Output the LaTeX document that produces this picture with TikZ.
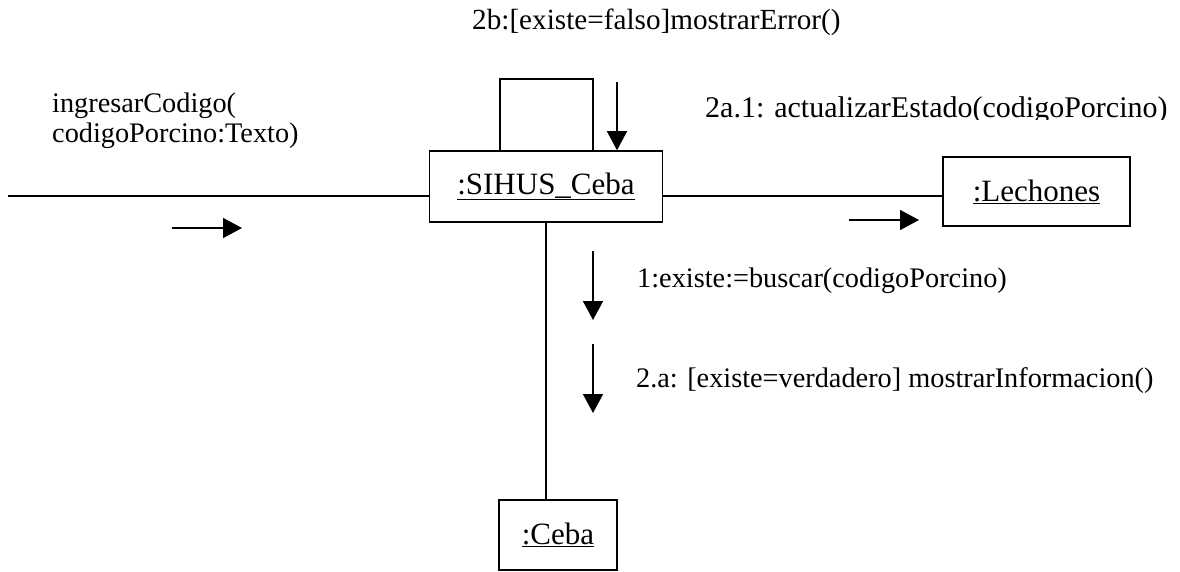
\documentclass[tikz,border=0pt]{standalone}
\usepackage{fontspec}
\setmainfont{Liberation Serif}
\usetikzlibrary{arrows.meta, calc}
\tikzset{
  object/.style={rectangle, draw, line width=1.6pt, inner sep=0pt,
    align=center, font=\fontsize{31}{33}\selectfont},
  msg/.style={inner sep=0pt, anchor=base west, align=left,
    font=\fontsize{28.3}{29.5}\selectfont},
  link/.style={line width=1.6pt},
  arrow/.style={-{Triangle[length=19pt, width=20pt]}, line width=1.6pt},
}

\begin{document}
\begin{tikzpicture}[x=1pt, y=-1pt]
  \useasboundingbox (0,0) rectangle (1180,571);

  % objects
  \node[object, minimum width=233pt, minimum height=71pt] (sihus)    at (546,186.5) {\underline{:SIHUS\_Ceba}};
  \node[object, minimum width=187pt, minimum height=69pt] (lechones) at (1036.5,191.5) {\underline{:Lechones}};
  \node[object, minimum width=118pt, minimum height=70pt] (ceba)     at (558,535) {\underline{:Ceba}};

  % links
  \coordinate (actor) at (8,196);
  \draw[link] (actor) -- (actor -| sihus.west);
  \draw[link] (sihus.east |- actor) -- (lechones.west |- actor);
  \draw[link] (sihus.south) -- (sihus.south |- ceba.north);
  \draw[link] ($(sihus.north)+(-46,0)$) -- ++(0,-71) -| ($(sihus.north)+(47,0)$);

  % messages
  \node[msg, font=\fontsize{29.2}{30}\selectfont] (msgerror) at (472,29) {2b:[existe=falso]mostrarError()};
  \begin{scope}
    \clip (690,70) rectangle (1180,119.5);
    \node[msg, font=\fontsize{30}{31}\selectfont] (msgestado) at (705,117) {2a.1: actualizarEstado(codigoPorcino)};
  \end{scope}
  \node[msg] (msgingreso) at (52,142) {ingresarCodigo(\\codigoPorcino:Texto)};
  \node[msg] (msgbuscar)  at (637,287) {1:existe:=buscar(codigoPorcino)};
  \node[msg] (msginfo)    at (636,387) {2.a: [existe=verdadero] mostrarInformacion()};

  % message arrows
  \coordinate (toperror) at (617,82);
  \coordinate (inleft)   at (172,228);
  \coordinate (inright)  at (849,220);
  \coordinate (downone)  at (593,251);
  \coordinate (downtwo)  at (593,344);
  \draw[arrow] (toperror) -- (toperror |- sihus.north);
  \draw[arrow] (inleft) -- ++(70,0);
  \draw[arrow] (inright) -- ++(70,0);
  \draw[arrow] (downone) -- ++(0,69);
  \draw[arrow] (downtwo) -- ++(0,69);
\end{tikzpicture}
\end{document}
